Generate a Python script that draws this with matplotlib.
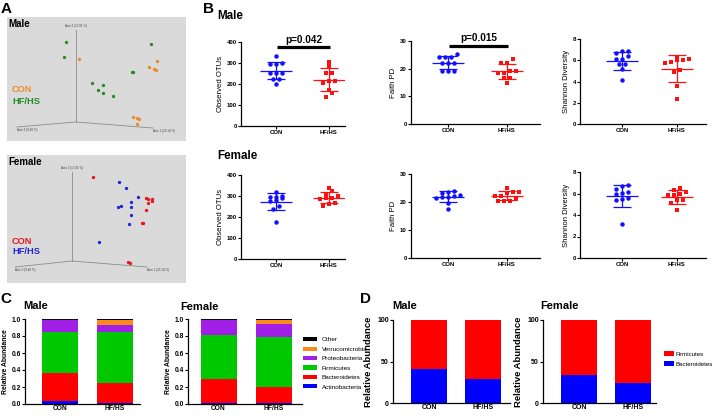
import numpy as np
import matplotlib.pyplot as plt

plt.rcParams['font.family'] = ['Liberation Sans', 'DejaVu Sans']

W, H = 716, 416
BLUE = '#1010FF'
RED = '#FF1010'

groups = ['CON', 'HF/HS']

# ---- A: PCoA, sample positions as projected in the 3D view
male_con_pc = [(72, 42), (150, 44), (142, 50), (147, 52), (149, 53),
               (126, 100), (130, 101), (132, 102), (130, 107)]
male_hf_pc = [(59, 25), (57, 40), (144, 27), (125, 55), (126, 55),
              (85, 66), (96, 68), (91, 73), (96, 76), (106, 79)]
female_con_pc = [(86, 22), (139, 43), (141, 44), (145, 44), (141, 48), (145, 46),
                 (139, 55), (135, 68), (136, 68), (121, 107), (123, 108)]
female_hf_pc = [(112, 27), (119, 33), (131, 42), (124, 47), (111, 52),
                (114, 51), (124, 52), (124, 60), (122, 69), (92, 87)]
axis_labels = ['Axis 1 (23.14 %)', 'Axis 2 (17.81 %)', 'Axis 3 (9.48 %)']

# ---- B: alpha diversity
male_otu_con = [334, 294, 294, 299, 254, 254, 254, 226, 226, 198]
male_otu_hf = [307, 286, 251, 251, 216, 216, 206, 171, 155, 139]
male_faith_con = [25.3, 24.1, 24.1, 24.1, 22.0, 22.0, 22.0, 19.3, 19.3, 19.3]
male_faith_hf = [23.4, 22.0, 22.0, 19.0, 19.0, 18.4, 18.4, 16.8, 16.8, 14.8]
male_shannon_con = [6.68, 6.84, 6.84, 6.43, 6.11, 6.14, 5.64, 5.64, 5.2, 4.1]
male_shannon_hf = [5.99, 5.83, 6.11, 6.3, 5.74, 5.99, 4.89, 5.11, 3.54, 2.38]
female_otu_con = [320, 297, 297, 301, 289, 276, 279, 254, 238, 178]
female_otu_hf = [336, 324, 300, 310, 286, 292, 292, 268, 254, 263]
female_faith_con = [21.8, 23.7, 22.5, 24.1, 21.4, 22.3, 19.6, 17.6, 23.2, 21.8]
female_faith_hf = [22.3, 23.5, 25.0, 23.5, 23.2, 22.1, 20.5, 20.5, 20.5, 21.0]
female_shannon_con = [6.67, 6.14, 6.45, 6.82, 6.05, 5.98, 5.58, 5.43, 5.46, 3.13]
female_shannon_hf = [6.14, 6.54, 6.36, 5.83, 5.98, 5.83, 5.36, 5.36, 5.15, 4.43]

# ---- C: phylum relative abundance
phyla = ['Actinobacteria', 'Bacteroidetes', 'Firmicutes', 'Proteobacteria',
         'Verrucomicrobia', 'Other']
phylum_colors = ['#0000FF', '#FF0000', '#00C800', '#A21FE8', '#FF8A1C', '#000000']
male_con_phyla = [0.03, 0.34, 0.48, 0.138, 0.002, 0.01]
male_hf_phyla = [0.015, 0.235, 0.595, 0.08, 0.065, 0.01]
female_con_phyla = [0.015, 0.275, 0.52, 0.18, 0.002, 0.008]
female_hf_phyla = [0.015, 0.185, 0.585, 0.16, 0.04, 0.015]

# ---- D: Firmicutes / Bacteroidetes (%)
male_bact = [41, 28.5]
male_firm = [59, 71.5]
female_bact = [33.5, 24.5]
female_firm = [66.5, 75.5]

fig = plt.figure(figsize=(W / 100, H / 100), dpi=100)


def add_ax(x0, y0, x1, y1):
    return fig.add_axes([x0 / W, 1 - y1 / H, (x1 - x0) / W, (y1 - y0) / H])


def ftext(x, y, s, **kw):
    fig.text(x / W, 1 - y / H, s, **kw)


def prism_axes(ax, fs=4.3):
    for s in ['top', 'right']:
        ax.spines[s].set_visible(False)
    for s in ['left', 'bottom']:
        ax.spines[s].set_linewidth(0.9)
    ax.tick_params(length=2, width=0.8, pad=1, labelsize=fs)
    for lab in ax.get_yticklabels():
        lab.set_fontweight('bold')


def swarm(ypx, step=6.0, tol=4.0):
    order = np.argsort(ypx)
    off = np.zeros(len(ypx))
    rows, cur = [], [order[0]]
    for i in order[1:]:
        if ypx[i] - ypx[cur[0]] < tol:
            cur.append(i)
        else:
            rows.append(cur)
            cur = [i]
    rows.append(cur)
    for r in rows:
        for j, i in enumerate(r):
            off[i] = (j - (len(r) - 1) / 2) * step
    return off


def pcoa(box, con, hf, c_con, c_hf, title, ax_geom, leg_y):
    x0, y0, x1, y1 = box
    ax = add_ax(x0, y0, x1, y1)
    ax.set_facecolor('#DADADA')
    ax.set_xlim(0, x1 - x0)
    ax.set_ylim(y1 - y0, 0)
    ax.set_xticks([])
    ax.set_yticks([])
    for s in ax.spines.values():
        s.set_visible(False)
    ox, oy, top, l3, l1 = ax_geom
    ax.plot([ox, ox], [top, oy], color='#8C8C8C', lw=0.6)
    ax.plot([l3[0], ox, l1[0]], [l3[1], oy, l1[1]], color='#8C8C8C', lw=0.6)
    ax.text(ox, top - 2, axis_labels[1], fontsize=2.2, ha='center', va='bottom', color='#444444')
    ax.text(l3[0], l3[1] + 1, axis_labels[2], fontsize=2.2, ha='left', va='top', color='#444444')
    ax.text(l1[0], l1[1] + 1, axis_labels[0], fontsize=2.2, ha='left', va='top', color='#444444')
    for pts, col in [(con, c_con), (hf, c_hf)]:
        pts = np.array(pts)
        ax.plot(pts[:, 0], pts[:, 1], 'o', color=col, ms=2.4, mew=0)
    ax.text(1, 7, title, fontsize=7, fontweight='bold', va='center')
    ax.text(5, leg_y, 'CON', color=c_con, fontsize=6.7, fontweight='bold', va='center')
    ax.text(5, leg_y + 11, 'HF/HS', color=c_hf, fontsize=6.7, fontweight='bold', va='center')


pcoa((7, 17, 186, 141), male_con_pc, male_hf_pc, '#F0882A', '#238C23', 'Male',
     (69, 105, 13, (10, 110), (146, 111)), 73)
pcoa((7, 155, 186, 283), female_con_pc, female_hf_pc, '#E8141E', '#2424D8', 'Female',
     (65, 106, 17, (8, 112), (140, 112)), 86)


def dot_panel(box, cats_px, ymax, ylabel, con, hf, pval=None):
    x0, y0, x1, y1 = box
    c0, c1 = cats_px
    d = c1 - c0
    ax = add_ax(x0, y0, x1, y1)
    ax.set_xlim((x0 - c0) / d, (x1 - c0) / d)
    ax.set_ylim(0, ymax)
    ax.set_yticks(np.linspace(0, ymax, 5 if ymax != 30 else 4))
    ax.set_xticks([0, 1])
    ax.set_xticklabels(groups, fontweight='bold', fontsize=4.6)
    prism_axes(ax)
    ax.set_ylabel(ylabel, fontsize=5.6, labelpad=2)
    ppu = (y1 - y0) / ymax
    for i, (vals, col, mk) in enumerate([(con, BLUE, 'o'), (hf, RED, 's')]):
        vals = np.array(vals, dtype=float)
        off = swarm(vals * ppu) / d
        ax.plot(i + off, vals, mk, color=col, ms=3.2 if mk == 'o' else 2.9, mew=0, clip_on=False)
        m, s = vals.mean(), vals.std(ddof=1)
        ax.hlines(m, i - 16 / d, i + 16 / d, color=col, lw=0.9)
        ax.hlines([m - s, m + s], i - 9 / d, i + 9 / d, color=col, lw=0.9)
        ax.vlines(i, m - s, m + s, color=col, lw=0.9)
    if pval:
        yb = ymax * 0.94
        ax.plot([0.02, 1.02], [yb, yb], color='black', lw=2.3, clip_on=False, solid_capstyle='butt')
        ax.text(0.52, yb + ymax * 0.03, pval, fontsize=7.2, fontweight='bold',
                ha='center', va='bottom')
    return ax


ftext(1, 2, 'A', fontsize=11, fontweight='bold', va='top')
ftext(203, 2, 'B', fontsize=11, fontweight='bold', va='top')
ftext(217, 16, 'Male', fontsize=8.4, fontweight='bold', va='center')
ftext(217, 156, 'Female', fontsize=8.4, fontweight='bold', va='center')

dot_panel((241, 42, 345, 126), (276, 329), 400, 'Observed OTUs', male_otu_con, male_otu_hf, 'p=0.042')
dot_panel((411, 41, 540, 124), (448, 507), 30, 'Faith PD', male_faith_con, male_faith_hf, 'p=0.015')
dot_panel((580, 39, 706, 124), (622, 677), 8, 'Shannon Diversity', male_shannon_con, male_shannon_hf)
dot_panel((241, 175, 345, 259), (276, 329), 400, 'Observed OTUs', female_otu_con, female_otu_hf)
dot_panel((411, 174, 540, 258), (448, 507), 30, 'Faith PD', female_faith_con, female_faith_hf)
dot_panel((580, 172, 706, 258), (622, 677), 8, 'Shannon Diversity', female_shannon_con, female_shannon_hf)


def stack_panel(box, cats_px, bar_px, con, hf):
    x0, y0, x1, y1 = box
    c0, c1 = cats_px
    d = c1 - c0
    ax = add_ax(x0, y0, x1, y1)
    ax.set_xlim((x0 - c0) / d, (x1 - c0) / d)
    ax.set_ylim(0, 1)
    data = np.array([con, hf]).T
    bottom = np.zeros(2)
    for name, col, row in zip(phyla, phylum_colors, data):
        ax.bar([0, 1], row, bottom=bottom, width=bar_px / d, color=col, label=name)
        bottom += row
    ax.set_yticks(np.arange(0, 1.01, 0.2))
    ax.set_yticklabels([f'{v:.1f}' for v in np.arange(0, 1.01, 0.2)])
    ax.set_xticks([0, 1])
    ax.set_xticklabels(groups, fontweight='bold', fontsize=5)
    prism_axes(ax, fs=4.8)
    ax.tick_params(axis='x', length=0)
    ax.set_ylabel('Relative Abundance', fontsize=4.9, fontweight='bold', labelpad=2)
    return ax


ftext(0, 292, 'C', fontsize=11, fontweight='bold', va='top')
ftext(23, 306, 'Male', fontsize=8, fontweight='bold', va='center')
ftext(180, 307, 'Female', fontsize=8, fontweight='bold', va='center')
stack_panel((25, 319, 140, 404), (60, 115), 36, male_con_phyla, male_hf_phyla)
axc = stack_panel((188, 319, 302, 404), (218.5, 273.5), 36, female_con_phyla, female_hf_phyla)
h, l = axc.get_legend_handles_labels()
axc.legend(h[::-1], l[::-1], loc='upper left', bbox_to_anchor=(300 / W, 1 - 334 / H),
           bbox_transform=fig.transFigure, frameon=False, fontsize=4.6, borderpad=0,
           handlelength=2.1, handleheight=0.6, labelspacing=0.65, handletextpad=0.8)


def fb_panel(box, cats_px, bar_px, bact, firm):
    x0, y0, x1, y1 = box
    c0, c1 = cats_px
    d = c1 - c0
    ax = add_ax(x0, y0, x1, y1)
    ax.set_xlim((x0 - c0) / d, (x1 - c0) / d)
    ax.set_ylim(0, 100)
    ax.bar([0, 1], bact, width=bar_px / d, color='#0000FF', label='Bacteroidetes')
    ax.bar([0, 1], firm, bottom=bact, width=bar_px / d, color='#FF0000', label='Firmicutes')
    ax.set_yticks([0, 50, 100])
    ax.set_xticks([0, 1])
    ax.set_xticklabels(groups, fontweight='bold', fontsize=5.2)
    prism_axes(ax, fs=5)
    ax.tick_params(axis='x', length=0)
    ax.set_ylabel('Relative Abundance', fontsize=6.8, fontweight='bold', labelpad=3)
    return ax


ftext(360, 292, 'D', fontsize=11, fontweight='bold', va='top')
ftext(392, 306, 'Male', fontsize=8, fontweight='bold', va='center')
ftext(540, 306, 'Female', fontsize=8, fontweight='bold', va='center')
fb_panel((393, 320, 510, 403), (429, 483), 36, male_bact, male_firm)
axd = fb_panel((543, 320, 656, 403), (579, 633), 36, female_bact, female_firm)
h, l = axd.get_legend_handles_labels()
axd.legend(h[::-1], l[::-1], loc='upper left', bbox_to_anchor=(661 / W, 1 - 348 / H),
           bbox_transform=fig.transFigure, frameon=False, fontsize=4.4, borderpad=0,
           handlelength=1.7, handleheight=0.8, labelspacing=0.75, handletextpad=0.25)

fig.savefig('out.png', dpi=100)
